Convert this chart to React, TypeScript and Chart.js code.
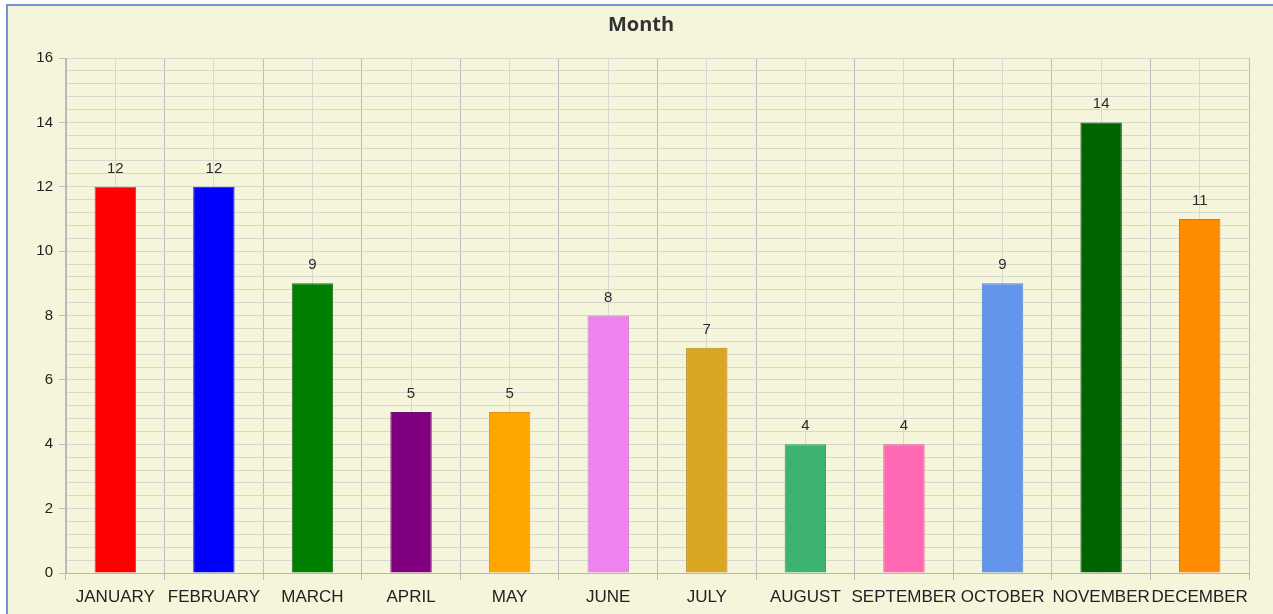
import React, { useEffect, useRef } from "react";
import { Chart, registerables } from "chart.js";

Chart.register(...registerables);

const months = [
  "JANUARY", "FEBRUARY", "MARCH", "APRIL", "MAY", "JUNE",
  "JULY", "AUGUST", "SEPTEMBER", "OCTOBER", "NOVEMBER", "DECEMBER",
];
const counts = [12, 12, 9, 5, 5, 8, 7, 4, 4, 9, 14, 11];
const barColors = [
  "#FF0000", "#0000FF", "#008000", "#800080", "#FFA500", "#EE82EE",
  "#DAA520", "#3CB371", "#FF69B4", "#6495ED", "#006400", "#FF8C00",
];
const barBorders = [
  "#e04040", "#2020c0", "#206f20", "#6a106a", "#d9911a", "#d070d0",
  "#b88a20", "#309a60", "#e05a9a", "#5585d0", "#104f10", "#d97810",
];
const titleText = "Month";
const yMin = 0;
const yMax = 16;
const yMajorStep = 2;
const yMinorStep = 0.4;

const valueLabels = {
  id: "valueLabels",
  afterDatasetsDraw(chart: any) {
    const ctx = chart.ctx;
    const meta = chart.getDatasetMeta(0);
    ctx.save();
    ctx.font = "15px 'Liberation Sans', Arial, sans-serif";
    ctx.fillStyle = "#2a2a2a";
    ctx.textAlign = "center";
    ctx.textBaseline = "alphabetic";
    meta.data.forEach((bar: any, i: number) => {
      ctx.fillText(String(chart.data.datasets[0].data[i]), bar.x, bar.y - 14);
    });
    ctx.restore();
  },
};

export default function App() {
  const ref = useRef<HTMLCanvasElement | null>(null);
  useEffect(() => {
    if (!ref.current) return;
    const chart = new Chart(ref.current, {
      type: "bar",
      data: {
        labels: months,
        datasets: [
          {
            data: counts,
            backgroundColor: barColors,
            borderColor: barBorders,
            borderWidth: 1,
            categoryPercentage: 1,
            barPercentage: 0.42,
            xAxisID: "x",
            yAxisID: "y",
          },
        ],
      },
      options: {
        animation: false,
        responsive: false,
        layout: { padding: { left: 33, right: 24, top: 0, bottom: 0 } },
        plugins: {
          legend: { display: false },
          tooltip: { enabled: false },
          title: {
            display: true,
            text: titleText,
            color: "#333",
            font: { family: "'Open Sans', 'Liberation Sans', sans-serif", size: 20, weight: "bold" },
            padding: { top: 13, bottom: 21 },
          },
        },
        scales: {
          x: {
            type: "category",
            position: "bottom",
            offset: true,
            grid: { offset: true, color: "#bdbdbd", tickLength: 7, lineWidth: 1 },
            border: { display: true, color: "#b5b5b5" },
            ticks: {
              color: "#222",
              font: { family: "'Liberation Sans', Arial, sans-serif", size: 17 },
              padding: 7,
              maxRotation: 0,
              minRotation: 0,
              autoSkip: false,
            },
            afterFit: (s: any) => { s.height = 41; },
          },
          xMinor: {
            type: "category",
            position: "bottom",
            offset: true,
            z: -1,
            grid: { offset: false, color: "#d8d8d0", drawTicks: false },
            border: { display: false },
            ticks: { display: false },
            afterFit: (s: any) => { s.height = 0; },
          },
          y: {
            type: "linear",
            position: "left",
            min: yMin,
            max: yMax,
            grid: { color: "#bdbdbd", tickLength: 7 },
            border: { display: true, color: "#b5b5b5" },
            ticks: {
              stepSize: yMajorStep,
              color: "#222",
              font: { family: "'Liberation Sans', Arial, sans-serif", size: 15 },
              padding: 6,
            },
            afterFit: (s: any) => { s.width = 33; },
          },
          yMinor: {
            type: "linear",
            position: "left",
            min: yMin,
            max: yMax,
            z: -1,
            grid: { color: "#d8d8d0", drawTicks: false },
            border: { display: false },
            ticks: { display: false, stepSize: yMinorStep },
            afterFit: (s: any) => { s.width = 0; },
          },
        },
      },
      plugins: [valueLabels],
    });
    return () => chart.destroy();
  }, []);

  return (
    <div style={{ position: "fixed", left: 0, top: 0, width: 1273, height: 614, overflow: "hidden", background: "#ffffff" }}>
      <div
        style={{
          position: "absolute",
          left: 6,
          top: 4,
          width: 1300,
          height: 700,
          borderLeft: "2px solid #6f96cf",
          borderTop: "2px solid #6f96cf",
          background: "#F5F5DC",
        }}
      />
      <canvas
        ref={ref}
        width={1273}
        height={614}
        style={{ position: "absolute", left: 0, top: 0, width: 1273, height: 614 }}
      />
    </div>
  );
}
